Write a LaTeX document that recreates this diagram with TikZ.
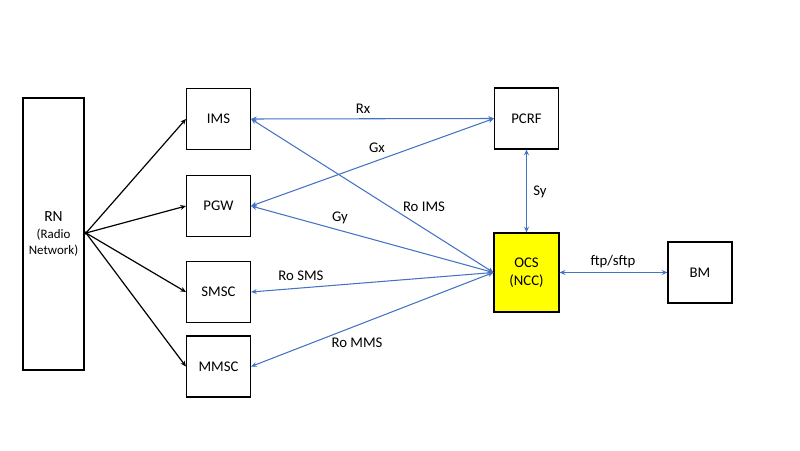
\documentclass[tikz,border=0pt]{standalone}
\usepackage{fontspec}
\setmainfont{Carlito}
\usepackage{tikz}
\usetikzlibrary{positioning,arrows.meta}

\definecolor{linkblue}{RGB}{68,114,196}
\definecolor{ocsyellow}{RGB}{255,255,0}
\newcommand{\smalltxt}[1]{{\fontsize{9.2}{11}\selectfont #1}}

\begin{document}
\begin{tikzpicture}[font=\fontsize{10.5}{12.5}\selectfont,
    box/.style={draw,thick,minimum width=1.6cm,minimum height=1.525cm,inner sep=0pt,align=center},
    feed/.style={-{Stealth[length=4pt,width=3.5pt]},black,line width=0.85pt},
    iface/.style={{Stealth[length=4pt,width=3.5pt]}-{Stealth[length=4pt,width=3.5pt]},linkblue,line width=0.75pt}]
    \useasboundingbox (0,0) rectangle (20,11.25);
    %%%%% THE NODES
    \node[box,minimum width=1.525cm,minimum height=6.8cm] (RN) at (1.3375,5.4)
        {\fontsize{11}{13}\selectfont RN\\[-0.5pt]\smalltxt{(Radio}\\[-0.5pt]\smalltxt{Network)}};
    \node[box] (IMS)  at (5.4625,8.275) {IMS};
    \node[box] (PGW)  at (5.4625,6.1)   {PGW};
    \node[box] (SMSC) at (5.4625,3.95)  {SMSC};
    \node[box] (MMSC) at (5.4625,2.0875) {MMSC};
    \node[box] (PCRF) at (13.1625,8.2875) {PCRF};
    \node[box,fill=ocsyellow,minimum width=1.625cm,minimum height=1.975cm] (OCS) at (13.1625,4.4375) {OCS\\(NCC)};
    \node[box] (BM)   at (17.5,4.4375) {BM};
    %%%%% FROM THE RADIO NETWORK
    \coordinate (HUB) at (2.15,5.425);
    \foreach \n in {IMS,PGW,SMSC,MMSC}
        \draw[feed] (HUB) -- (\n.west);
    \fill (HUB) circle (1.3pt);
    %%%%% INTERFACES
    \draw[iface] (IMS.east) -- (PCRF.west);
    \draw[iface] (PGW.east) -- (PCRF.west);
    \draw[iface] (IMS.east) -- (OCS.west);
    \draw[iface] (PGW.east) -- (OCS.west);
    \draw[iface] (SMSC.east) -- (OCS.west);
    \draw[iface] (MMSC.east) -- (OCS.west);
    \draw[iface] (PCRF.south) -- (OCS.north);
    \draw[iface] (OCS.east) -- (BM.west);
    %%%%% LABELS
    \node (RX)    at (9.075,8.525) {Rx};
    \node (GX)    at (9.425,7.55)  {Gx};
    \node (ROIMS) at (10.6,6.075)  {Ro IMS};
    \node (GY)    at (8.5,5.8)     {Gy};
    \node (ROSMS) at (7.525,4.35)  {Ro SMS};
    \node (ROMMS) at (8.925,2.675) {Ro MMS};
    \node (SY)    at (13.5,6.45)   {Sy};
    \node (FTP)   at (15.325,4.7)  {ftp/sftp};
\end{tikzpicture}
\end{document}
